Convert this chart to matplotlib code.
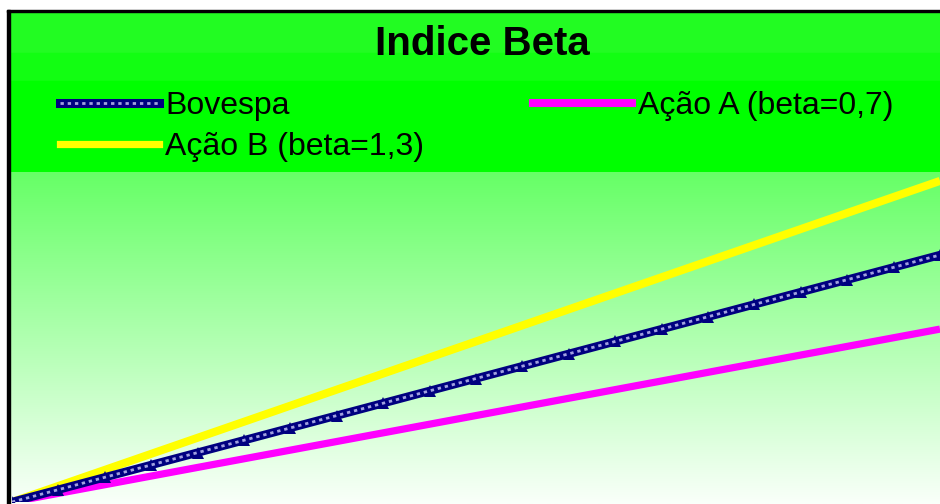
import numpy as np
import matplotlib
matplotlib.use("Agg")
import matplotlib.pyplot as plt
from matplotlib.patches import Rectangle
from matplotlib.lines import Line2D

# ---- data ----
periods = [0, 1, 2, 3, 4, 5, 6, 7, 8, 9, 10, 11, 12, 13, 14, 15, 16, 17, 18, 19, 20]
bovespa = [0, 1, 2, 3, 4, 5, 6, 7, 8, 9, 10, 11, 12, 13, 14, 15, 16, 17, 18, 19, 20]
acao_a = [0, 0.7, 1.4, 2.1, 2.8, 3.5, 4.2, 4.9, 5.6, 6.3, 7.0, 7.7, 8.4, 9.1, 9.8,
          10.5, 11.2, 11.9, 12.6, 13.3, 14.0]
acao_b = [0, 1.3, 2.6, 3.9, 5.2, 6.5, 7.8, 9.1, 10.4, 11.7, 13.0, 14.3, 15.6, 16.9,
          18.2, 19.5, 20.8, 22.1, 23.4, 24.7, 26.0]
labels = ["Bovespa", "Ação A (beta=0,7)", "Ação B (beta=1,3)"]
title = "Indice Beta"

plt.rcParams['font.family'] = ['Liberation Sans', 'DejaVu Sans']

W, H = 940, 504
fig = plt.figure(figsize=(W / 100, H / 100), dpi=100)
fig.patch.set_facecolor('white')

def fx(px):
    return px / W

def fy(py):
    return 1 - py / H

# header bands
fig.add_artist(Rectangle((fx(10), fy(53)), fx(930), (53 - 12) / H,
                         transform=fig.transFigure, color='#22fc22', zorder=0))
fig.add_artist(Rectangle((fx(10), fy(81)), fx(930), (81 - 53) / H,
                         transform=fig.transFigure, color='#12fe12', zorder=0))
fig.add_artist(Rectangle((fx(10), fy(172)), fx(930), (172 - 81) / H,
                         transform=fig.transFigure, color='#00ff00', zorder=0))
# border
fig.add_artist(Rectangle((fx(7), 0), fx(3), fy(10),
                         transform=fig.transFigure, color='black', zorder=1))
fig.add_artist(Rectangle((fx(7), fy(12)), fx(933), 2 / H,
                         transform=fig.transFigure, color='black', zorder=1))

# gradient background of plot area
bg = fig.add_axes([fx(10), 0, fx(930), (H - 172) / H])
top = np.array([102, 255, 102]) / 255
bot = np.array([250, 255, 250]) / 255
t = np.linspace(0, 1, 256)[:, None]
grad = top[None, :] * (1 - t) + bot[None, :] * t
bg.imshow(grad[:, None, :], aspect='auto', extent=[0, 1, 0, 1])
bg.set_axis_off()

# data axes
ax = fig.add_axes([fx(12), fy(502), fx(928), (502 - 172) / H])
ax.set_facecolor('none')
ax.set_xlim(0, 20)
ax.set_ylim(0, 20 * 330 / 247)
ax.set_axis_off()

ax.plot(periods, acao_b, color='#ffff00', lw=5.8, solid_capstyle='butt', zorder=3)
ax.plot(periods, acao_a, color='#ff00ff', lw=5.2, solid_capstyle='butt', zorder=3)
ax.plot(periods, bovespa, color='#000080', lw=6.0, solid_capstyle='butt', zorder=4,
        marker='^', markersize=8, markevery=1, markeredgewidth=0)
ax.plot(periods, bovespa, color='#a0a0e0', lw=2.0, dashes=(1.2, 1.4), zorder=5)

# title
fig.text(fx(482), fy(44), title, ha='center', va='center', fontsize=29,
         fontweight='bold', color='black')

# legend
h_bov = (Line2D([], [], color='#000080', lw=6.5),
         Line2D([], [], color='#a0a0e0', lw=2.0, dashes=(1.2, 1.4)))
h_a = Line2D([], [], color='#ff00ff', lw=5.8)
h_b = Line2D([], [], color='#ffff00', lw=5.2)
leg = fig.legend([h_bov, h_b, h_a], [labels[0], labels[2], labels[1]], ncol=2,
                 loc='upper left', bbox_to_anchor=(fx(60), fy(91)),
                 frameon=False, fontsize=23, handlelength=3.1, handletextpad=0.2,
                 columnspacing=3.4, labelspacing=0.34, borderpad=0, borderaxespad=0)

fig.savefig('out.png', dpi=100, facecolor=fig.get_facecolor())
